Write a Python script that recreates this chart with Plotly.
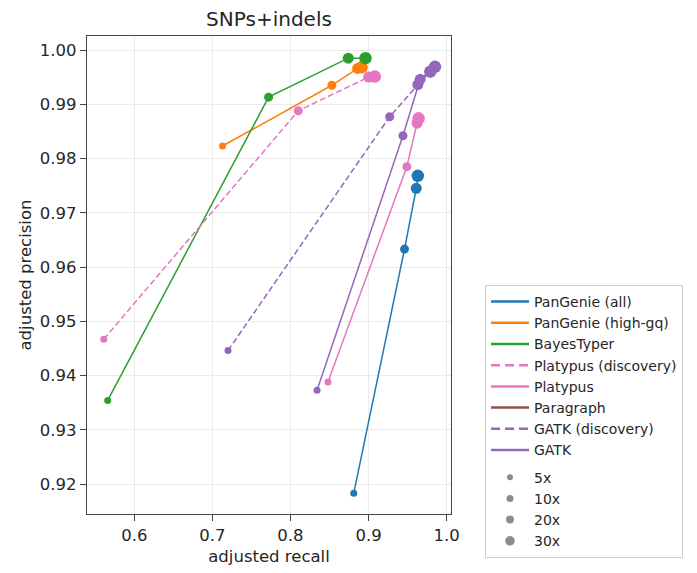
import plotly.graph_objects as go

# ---- data (order of points: 5x, 10x, 20x, 30x) ----
coverages = ["5x", "10x", "20x", "30x"]

pangenie_all_recall = [0.881, 0.946, 0.961, 0.963]
pangenie_all_precision = [0.9183, 0.9633, 0.9745, 0.9768]

pangenie_hgq_recall = [0.713, 0.853, 0.886, 0.891]
pangenie_hgq_precision = [0.9823, 0.9935, 0.9966, 0.9968]

bayestyper_recall = [0.566, 0.772, 0.874, 0.896]
bayestyper_precision = [0.9354, 0.9913, 0.9985, 0.9985]

platypus_disc_recall = [0.561, 0.810, 0.900, 0.908]
platypus_disc_precision = [0.9467, 0.9888, 0.9950, 0.9951]

platypus_recall = [0.848, 0.949, 0.962, 0.964]
platypus_precision = [0.9388, 0.9785, 0.9865, 0.9874]

paragraph_recall = []
paragraph_precision = []

gatk_disc_recall = [0.720, 0.927, 0.963, 0.979]
gatk_disc_precision = [0.9446, 0.9877, 0.9936, 0.9960]

gatk_recall = [0.834, 0.944, 0.966, 0.985]
gatk_precision = [0.9373, 0.9842, 0.9946, 0.9969]

x_ticks = [0.6, 0.7, 0.8, 0.9, 1.0]
y_ticks = [0.92, 0.93, 0.94, 0.95, 0.96, 0.97, 0.98, 0.99, 1.00]

# ---- styles ----
marker_sizes = [7, 9, 11, 12.5]
legend_marker_sizes = [6, 7, 8, 9.5]
FONT = "DejaVu Sans"
TXT = "#262626"

series = [
    ("PanGenie (all)", pangenie_all_recall, pangenie_all_precision, "#1f77b4", "solid"),
    ("PanGenie (high-gq)", pangenie_hgq_recall, pangenie_hgq_precision, "#ff7f0e", "solid"),
    ("BayesTyper", bayestyper_recall, bayestyper_precision, "#2ca02c", "solid"),
    ("Platypus (discovery)", platypus_disc_recall, platypus_disc_precision, "#e377c2", "6px,3px"),
    ("Platypus", platypus_recall, platypus_precision, "#e377c2", "solid"),
    ("Paragraph", paragraph_recall, paragraph_precision, "#8c564b", "solid"),
    ("GATK (discovery)", gatk_disc_recall, gatk_disc_precision, "#9467bd", "6px,3px"),
    ("GATK", gatk_recall, gatk_precision, "#9467bd", "solid"),
]

fig = go.Figure()

for name, xs, ys, col, dash in series:
    if len(xs):
        fig.add_trace(go.Scatter(
            x=xs, y=ys, mode="lines+markers", showlegend=False,
            line=dict(color=col, width=1.5, dash=dash),
            marker=dict(color=col, size=marker_sizes[:len(xs)], opacity=1,
                        line=dict(width=0)),
            hoverinfo="x+y", name=name,
        ))

# legend entries for methods
for name, xs, ys, col, dash in series:
    fig.add_trace(go.Scatter(
        x=[None], y=[None], mode="lines", name=name,
        line=dict(color=col, width=2.5, dash="9px,5px" if dash != "solid" else "solid"),
        legendgroup="methods",
    ))

# legend entries for coverage sizes
for cov, sz in zip(coverages, legend_marker_sizes):
    fig.add_trace(go.Scatter(
        x=[None], y=[None], mode="markers", name=cov,
        marker=dict(color="#8c8c8c", size=sz, opacity=1),
        legendgroup="sizes",
    ))

axis_common = dict(
    showgrid=True, gridcolor="#ebebeb", gridwidth=1,
    showline=True, mirror=True, linecolor="#444444", linewidth=1.3,
    ticks="outside", ticklen=6, tickwidth=1.2, tickcolor="#444444",
    tickfont=dict(family=FONT, size=16.5, color=TXT),
    zeroline=False,
)

fig.update_layout(
    width=697, height=573,
    margin=dict(l=87, r=246, t=36, b=59, autoexpand=False),
    paper_bgcolor="white", plot_bgcolor="white",
    font=dict(family=FONT, color=TXT),
    title=dict(text="SNPs+indels", x=(87 + 451) / 2 / 697, xanchor="center",
               y=1 - 19 / 573, yanchor="middle",
               font=dict(family=FONT, size=20, color=TXT)),
    xaxis=dict(axis_common, range=[0.5395, 1.0055], tickvals=x_ticks,
               ticktext=[f"{v:.1f}" for v in x_ticks],
               title=dict(text="adjusted recall", standoff=6,
                          font=dict(family=FONT, size=16.5, color=TXT))),
    yaxis=dict(axis_common, range=[0.91447, 1.00258], tickvals=y_ticks,
               ticktext=[f"{v:.2f}" for v in y_ticks],
               title=dict(text="adjusted precision", standoff=4,
                          font=dict(family=FONT, size=16.5, color=TXT))),
    legend=dict(
        x=(485 - 87) / 364, xanchor="left",
        y=(514 - 285) / 478, yanchor="top",
        bgcolor="white", bordercolor="#cccccc", borderwidth=1,
        font=dict(family=FONT, size=14, color=TXT),
        traceorder="grouped", tracegroupgap=6, itemwidth=38,
    ),
)

fig.write_html("out.html")
